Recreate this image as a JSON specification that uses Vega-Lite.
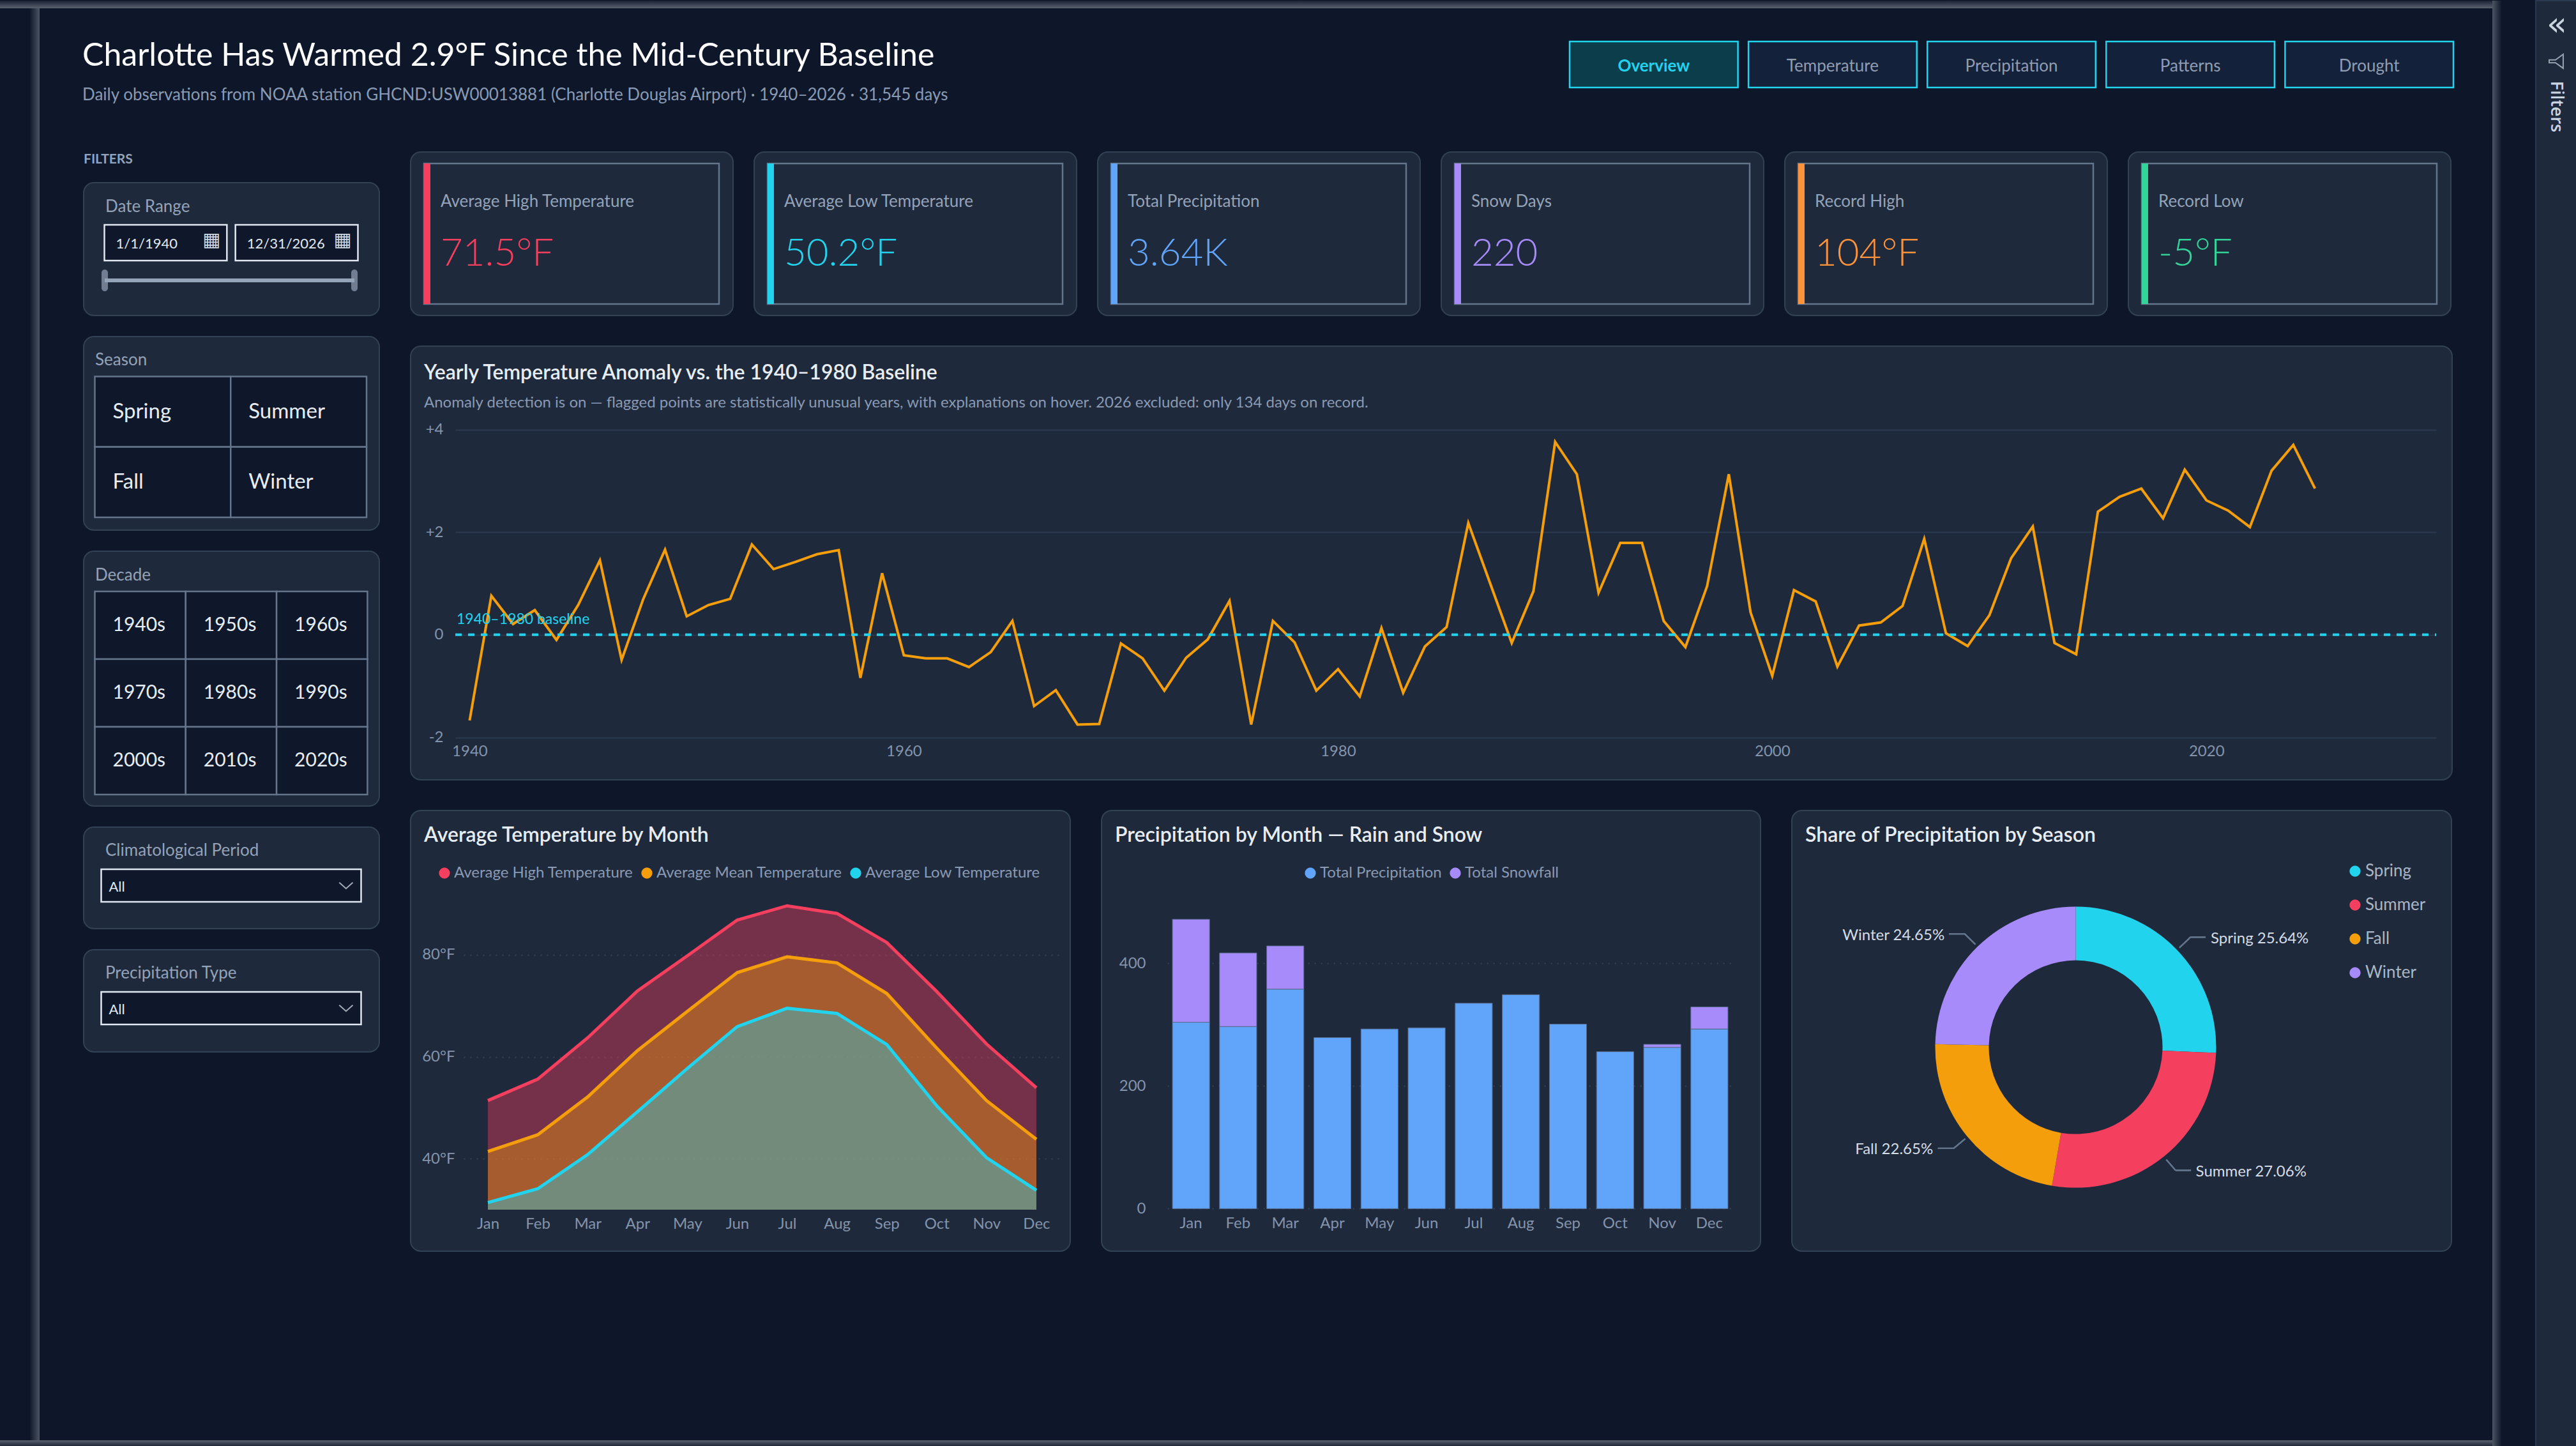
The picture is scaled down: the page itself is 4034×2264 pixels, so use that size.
{
  "$schema": "https://vega.github.io/schema/vega-lite/v6.json",
  "padding": 0,
  "background": "#0d1729",
  "spacing": 0,
  "resolve": {"scale": {"color": "independent"}},
  "config": {
    "font": "Lato",
    "view": {"fill": "#1e293b", "stroke": "#334155", "strokeWidth": 2, "cornerRadius": 16},
    "axis": {"domain": false, "ticks": false, "title": null, "labelFont": "Lato", "labelFontSize": 24, "labelColor": "#8494ab", "labelFlush": false, "gridColor": "#34445c", "gridDash": [2, 8], "gridWidth": 2},
    "title": {"anchor": "start", "frame": "group", "font": "Lato", "color": "#e8edf4", "fontSize": 32, "fontWeight": 600, "dx": 21, "offset": -56},
    "legend": {"labelFont": "Lato", "labelFontSize": 24, "labelLimit": 500, "labelColor": "#8a9ab3", "symbolType": "circle", "symbolSize": 300, "symbolOpacity": 1, "symbolStrokeWidth": 0, "title": null, "labelOffset": 3, "columnPadding": 9, "orient": "none", "padding": 0}
  },
  "hconcat": [
    {
      "spacing": 0,
      "resolve": {"scale": {"color": "independent"}},
      "vconcat": [
        {
          "width": 3903, "height": 12, "view": {"fill": "transparent", "stroke": null, "cornerRadius": 0},
          "data": {"values": [{"part": "top edge"}]},
          "mark": {"type": "rect", "color": {"gradient": "linear", "x1": 0, "y1": 0, "x2": 0, "y2": 1, "stops": [{"offset": 0, "color": "#1a2333"}, {"offset": 1, "color": "#5a606e"}]}}
        },
        {
          "spacing": 67,
          "resolve": {"scale": {"color": "independent"}},
          "hconcat": [
            {
              "width": 62, "height": 2242, "view": {"fill": "transparent", "stroke": null, "cornerRadius": 0},
              "data": {"values": [{"part": "left edge"}]},
              "mark": {"type": "rect", "color": {"gradient": "linear", "x1": 0, "y1": 0, "x2": 1, "y2": 0, "stops": [{"offset": 0, "color": "#0d1729"}, {"offset": 0.75, "color": "#0d1729"}, {"offset": 1, "color": "#4b5563"}]}}
            },
            {
              "spacing": 0,
              "resolve": {"scale": {"color": "independent"}},
              "vconcat": [
                {
                  "spacing": 0,
                  "bounds": "flush",
                  "hconcat": [
                    {
                      "width": 2327, "height": 224, "view": {"fill": "transparent", "stroke": null, "cornerRadius": 0},
                      "title": {"text": "Charlotte Has Warmed 2.9°F Since the Mid-Century Baseline", "subtitle": "Daily observations from NOAA station GHCND:USW00013881 (Charlotte Douglas Airport) · 1940–2026 · 31,545 days", "fontSize": 50, "fontWeight": 400, "color": "#ffffff", "subtitleFont": "Lato", "subtitleFontSize": 26, "subtitleColor": "#8a9ab3", "subtitlePadding": 23, "dx": -2, "offset": -149},
                      "data": {"values": [{"part": "title"}]},
                      "mark": {"type": "text", "text": ""}
                    },
                    {
                      "width": 1384, "height": 224, "view": {"fill": "transparent", "stroke": null, "cornerRadius": 0},
                      "data": {"values": [{"page": "Overview"}, {"page": "Temperature"}, {"page": "Precipitation"}, {"page": "Patterns"}, {"page": "Drought"}]},
                      "encoding": {
                        "x": {"field": "page", "type": "nominal", "sort": null, "axis": null, "scale": {"type": "band", "range": [0, 1384], "paddingInner": 0.059, "paddingOuter": 0}},
                        "y": {"datum": "nav", "type": "nominal", "axis": null, "scale": {"type": "band", "domain": ["nav"], "range": [52, 124], "padding": 0}}
                      },
                      "layer": [
                        {
                          "mark": {"type": "rect", "stroke": "#22d3ee", "strokeWidth": 2.5},
                          "encoding": {"fill": {"condition": {"test": "datum.page == 'Overview'", "value": "#0c3d4a"}, "value": "#14213a"}}
                        },
                        {
                          "transform": [{"filter": "datum.page != 'Overview'"}],
                          "mark": {"type": "text", "fontSize": 26, "color": "#8f9db3", "dy": 3},
                          "encoding": {"text": {"field": "page"}}
                        },
                        {
                          "transform": [{"filter": "datum.page == 'Overview'"}],
                          "mark": {"type": "text", "fontSize": 26, "fontWeight": 700, "color": "#22d3ee", "dy": 3},
                          "encoding": {"text": {"field": "page"}}
                        }
                      ]
                    }
                  ]
                },
                {
                  "spacing": 47,
                  "resolve": {"scale": {"color": "independent"}},
                  "hconcat": [
                    {
                      "spacing": 33,
                      "bounds": "flush",
                      "vconcat": [
                        {
                          "width": 463, "height": 15, "view": {"fill": "transparent", "stroke": null, "cornerRadius": 0},
                          "title": {"text": "FILTERS", "fontSize": 21, "fontWeight": 700, "color": "#94a3b8", "dx": 0, "offset": -22},
                          "data": {"values": [{"part": "label"}]},
                          "mark": {"type": "text", "text": ""}
                        },
                        {
                          "width": 463, "height": 208,
                          "title": {"text": "Date Range", "fontSize": 26, "fontWeight": 400, "color": "#94a3b8", "dx": 34, "offset": -51},
                          "resolve": {"scale": {"x": "independent", "y": "independent"}},
                          "layer": [
                            {
                              "data": {"values": [{"date": "1/1/1940"}, {"date": "12/31/2026"}]},
                              "mark": {"type": "rect", "fill": "#0f172a", "stroke": "#e2e8f0", "strokeWidth": 2.5},
                              "encoding": {
                                "x": {"field": "date", "type": "nominal", "sort": null, "axis": null, "scale": {"type": "band", "range": [32.5, 429.5], "paddingInner": 0.065, "paddingOuter": 0}},
                                "y": {"datum": "box", "type": "nominal", "axis": null, "scale": {"type": "band", "domain": ["box"], "range": [66, 122], "padding": 0}}
                              }
                            },
                            {
                              "data": {"values": [{"date": "1/1/1940"}, {"date": "12/31/2026"}]},
                              "mark": {"type": "text", "align": "left", "dx": 18, "dy": 2, "color": "#e2e8f0", "fontSize": 22},
                              "encoding": {
                                "x": {"field": "date", "type": "nominal", "sort": null, "bandPosition": 0, "axis": null, "scale": {"type": "band", "range": [32.5, 429.5], "paddingInner": 0.065, "paddingOuter": 0}},
                                "y": {"datum": "box", "type": "nominal", "axis": null, "scale": {"type": "band", "domain": ["box"], "range": [66, 122], "padding": 0}},
                                "text": {"field": "date"}
                              }
                            },
                            {
                              "data": {"values": [{"date": "1/1/1940"}, {"date": "12/31/2026"}]},
                              "mark": {"type": "text", "text": "▦", "font": "DejaVu Sans", "align": "right", "dx": 86, "dy": -4, "color": "#cbd5e1", "fontSize": 30},
                              "encoding": {
                                "x": {"field": "date", "type": "nominal", "sort": null, "axis": null, "scale": {"type": "band", "range": [32.5, 429.5], "paddingInner": 0.065, "paddingOuter": 0}},
                                "y": {"datum": "box", "type": "nominal", "axis": null, "scale": {"type": "band", "domain": ["box"], "range": [66, 122], "padding": 0}}
                              }
                            },
                            {
                              "data": {"values": [{"start": 1940, "end": 2026}]},
                              "mark": {"type": "rule", "color": "#94a3b8", "strokeWidth": 6},
                              "encoding": {
                                "x": {"field": "start", "type": "quantitative", "axis": null, "scale": {"domain": [1940, 2026], "range": [33, 424], "nice": false, "zero": false}},
                                "x2": {"field": "end"},
                                "y": {"datum": "slider", "type": "nominal", "axis": null, "scale": {"type": "band", "domain": ["slider"], "range": [136, 170], "padding": 0}}
                              }
                            },
                            {
                              "data": {"values": [{"year": 1940}, {"year": 2026}]},
                              "mark": {"type": "tick", "orient": "vertical", "color": "#94a3b8", "size": 34, "thickness": 10, "cornerRadius": 5},
                              "encoding": {
                                "x": {"field": "year", "type": "quantitative", "axis": null, "scale": {"domain": [1940, 2026], "range": [33, 424], "nice": false, "zero": false}},
                                "y": {"datum": "slider", "type": "nominal", "axis": null, "scale": {"type": "band", "domain": ["slider"], "range": [136, 170], "padding": 0}}
                              }
                            }
                          ]
                        },
                        {
                          "width": 463, "height": 303,
                          "title": {"text": "Season", "fontSize": 26, "fontWeight": 400, "color": "#94a3b8", "dx": 18, "offset": -50},
                          "data": {"values": [
                            {"season": "Spring", "col": "a", "row": "1"},
                            {"season": "Summer", "col": "b", "row": "1"},
                            {"season": "Fall", "col": "a", "row": "2"},
                            {"season": "Winter", "col": "b", "row": "2"}
                          ]},
                          "layer": [
                            {
                              "mark": {"type": "rect", "fill": "#0f172a", "stroke": "#64748b", "strokeWidth": 2.5},
                              "encoding": {
                                "x": {"field": "col", "type": "ordinal", "axis": null, "scale": {"range": [17.5, 443], "padding": 0}},
                                "y": {"field": "row", "type": "ordinal", "axis": null, "scale": {"range": [62.5, 283], "padding": 0}}
                              }
                            },
                            {
                              "mark": {"type": "text", "align": "left", "dx": 28, "color": "#e8edf4", "fontSize": 33},
                              "encoding": {
                                "x": {"field": "col", "type": "ordinal", "bandPosition": 0, "axis": null, "scale": {"range": [17.5, 443], "padding": 0}},
                                "y": {"field": "row", "type": "ordinal", "axis": null, "scale": {"range": [62.5, 283], "padding": 0}},
                                "text": {"field": "season"}
                              }
                            }
                          ]
                        },
                        {
                          "width": 463, "height": 399,
                          "title": {"text": "Decade", "fontSize": 26, "fontWeight": 400, "color": "#94a3b8", "dx": 18, "offset": -51},
                          "data": {"values": [
                            {"decade": "1940s", "col": "a", "row": "1"},
                            {"decade": "1950s", "col": "b", "row": "1"},
                            {"decade": "1960s", "col": "c", "row": "1"},
                            {"decade": "1970s", "col": "a", "row": "2"},
                            {"decade": "1980s", "col": "b", "row": "2"},
                            {"decade": "1990s", "col": "c", "row": "2"},
                            {"decade": "2000s", "col": "a", "row": "3"},
                            {"decade": "2010s", "col": "b", "row": "3"},
                            {"decade": "2020s", "col": "c", "row": "3"}
                          ]},
                          "layer": [
                            {
                              "mark": {"type": "rect", "fill": "#0f172a", "stroke": "#64748b", "strokeWidth": 2.5},
                              "encoding": {
                                "x": {"field": "col", "type": "ordinal", "axis": null, "scale": {"range": [17.5, 444.4], "padding": 0}},
                                "y": {"field": "row", "type": "ordinal", "axis": null, "scale": {"range": [63, 381], "padding": 0}}
                              }
                            },
                            {
                              "mark": {"type": "text", "align": "left", "dx": 28, "color": "#e8edf4", "fontSize": 30},
                              "encoding": {
                                "x": {"field": "col", "type": "ordinal", "bandPosition": 0, "axis": null, "scale": {"range": [17.5, 444.4], "padding": 0}},
                                "y": {"field": "row", "type": "ordinal", "axis": null, "scale": {"range": [63, 381], "padding": 0}},
                                "text": {"field": "decade"}
                              }
                            }
                          ]
                        },
                        {
                          "width": 463, "height": 159,
                          "title": {"text": "Climatological Period", "fontSize": 26, "fontWeight": 400, "color": "#94a3b8", "dx": 34, "offset": -50},
                          "data": {"values": [{"choice": "All"}]},
                          "encoding": {
                            "y": {"field": "choice", "type": "nominal", "axis": null, "scale": {"type": "band", "range": [66, 117], "padding": 0}},
                            "x": {"field": "choice", "type": "nominal", "axis": null, "scale": {"type": "band", "range": [27.5, 434.5], "padding": 0}}
                          },
                          "layer": [
                            {"mark": {"type": "rect", "fill": "#0f172a", "stroke": "#e2e8f0", "strokeWidth": 2.5}},
                            {
                              "mark": {"type": "text", "align": "left", "dx": 12, "dy": 2, "color": "#e2e8f0", "fontSize": 22},
                              "encoding": {"x": {"field": "choice", "type": "nominal", "bandPosition": 0, "axis": null}, "text": {"field": "choice"}}
                            },
                            {
                              "mark": {"type": "point", "shape": "M-1,-0.45L0,0.45L1,-0.45", "size": 450, "filled": false, "stroke": "#e2e8f0", "strokeWidth": 2},
                              "encoding": {"x": {"field": "choice", "type": "nominal", "bandPosition": 0.942, "axis": null}}
                            }
                          ]
                        },
                        {
                          "width": 463, "height": 160,
                          "title": {"text": "Precipitation Type", "fontSize": 26, "fontWeight": 400, "color": "#94a3b8", "dx": 34, "offset": -50},
                          "data": {"values": [{"choice": "All"}]},
                          "encoding": {
                            "y": {"field": "choice", "type": "nominal", "axis": null, "scale": {"type": "band", "range": [66, 117], "padding": 0}},
                            "x": {"field": "choice", "type": "nominal", "axis": null, "scale": {"type": "band", "range": [27.5, 434.5], "padding": 0}}
                          },
                          "layer": [
                            {"mark": {"type": "rect", "fill": "#0f172a", "stroke": "#e2e8f0", "strokeWidth": 2.5}},
                            {
                              "mark": {"type": "text", "align": "left", "dx": 12, "dy": 2, "color": "#e2e8f0", "fontSize": 22},
                              "encoding": {"x": {"field": "choice", "type": "nominal", "bandPosition": 0, "axis": null}, "text": {"field": "choice"}}
                            },
                            {
                              "mark": {"type": "point", "shape": "M-1,-0.45L0,0.45L1,-0.45", "size": 450, "filled": false, "stroke": "#e2e8f0", "strokeWidth": 2},
                              "encoding": {"x": {"field": "choice", "type": "nominal", "bandPosition": 0.942, "axis": null}}
                            }
                          ]
                        }
                      ]
                    },
                    {
                      "spacing": 46,
                      "resolve": {"scale": {"color": "independent"}},
                      "vconcat": [
                        {
                          "data": {"values": [
                            {"label": "Average High Temperature", "value": "71.5°F"},
                            {"label": "Average Low Temperature", "value": "50.2°F"},
                            {"label": "Total Precipitation", "value": "3.64K"},
                            {"label": "Snow Days", "value": "220"},
                            {"label": "Record High", "value": "104°F"},
                            {"label": "Record Low", "value": "-5°F"}
                          ]},
                          "facet": {"column": {"field": "label", "type": "nominal", "sort": ["Average High Temperature", "Average Low Temperature", "Total Precipitation", "Snow Days", "Record High", "Record Low"], "header": null}},
                          "spacing": 33,
                          "bounds": "flush",
                          "spec": {
                            "width": 505, "height": 256,
                            "encoding": {
                              "x": {"datum": 0, "type": "quantitative", "axis": null, "scale": {"domain": [0, 1], "range": [21, 483], "nice": false}},
                              "y": {"datum": 0, "type": "quantitative", "axis": null, "scale": {"domain": [0, 1], "range": [238, 18], "nice": false}}
                            },
                            "layer": [
                              {
                                "mark": {"type": "rect", "fill": "#1e293b", "stroke": "#64748b", "strokeWidth": 2.5},
                                "encoding": {"x2": {"datum": 1}, "y2": {"datum": 1}}
                              },
                              {
                                "mark": {"type": "rect"},
                                "encoding": {
                                  "x2": {"datum": 0.0216}, "y2": {"datum": 1},
                                  "color": {"field": "label", "type": "nominal", "sort": null, "legend": null, "scale": {"domain": ["Average High Temperature", "Average Low Temperature", "Total Precipitation", "Snow Days", "Record High", "Record Low"], "range": ["#f43f5e", "#22d3ee", "#60a5fa", "#a78bfa", "#fb923c", "#34d399"]}}
                                }
                              },
                              {
                                "mark": {"type": "text", "align": "left", "dx": 26, "dy": -50, "fontSize": 26, "color": "#94a3b8"},
                                "encoding": {"y": {"datum": 0.5, "type": "quantitative"}, "text": {"field": "label"}}
                              },
                              {
                                "mark": {"type": "text", "align": "left", "dx": 26, "dy": 32, "fontSize": 60, "fontWeight": 300},
                                "encoding": {
                                  "y": {"datum": 0.5, "type": "quantitative"},
                                  "text": {"field": "value"},
                                  "color": {"field": "label", "type": "nominal", "sort": null, "legend": null}
                                }
                              }
                            ]
                          }
                        },
                        {
                          "width": 3197, "height": 679,
                          "title": {"text": "Yearly Temperature Anomaly vs. the 1940–1980 Baseline", "subtitle": "Anomaly detection is on — flagged points are statistically unusual years, with explanations on hover. 2026 excluded: only 134 days on record.", "subtitleFont": "Lato", "subtitleFontSize": 24, "subtitleColor": "#8a9ab3", "subtitlePadding": 18, "offset": -102},
                          "layer": [
                            {
                              "data": {"values": [
                                {"year": 1940, "anomaly": -1.67}, {"year": 1941, "anomaly": 0.76}, {"year": 1942, "anomaly": 0.21}, {"year": 1943, "anomaly": 0.48}, {"year": 1944, "anomaly": -0.1},
                                {"year": 1945, "anomaly": 0.58}, {"year": 1946, "anomaly": 1.45}, {"year": 1947, "anomaly": -0.49}, {"year": 1948, "anomaly": 0.7}, {"year": 1949, "anomaly": 1.66},
                                {"year": 1950, "anomaly": 0.36}, {"year": 1951, "anomaly": 0.58}, {"year": 1952, "anomaly": 0.7}, {"year": 1953, "anomaly": 1.76}, {"year": 1954, "anomaly": 1.28},
                                {"year": 1955, "anomaly": 1.42}, {"year": 1956, "anomaly": 1.57}, {"year": 1957, "anomaly": 1.65}, {"year": 1958, "anomaly": -0.84}, {"year": 1959, "anomaly": 1.2},
                                {"year": 1960, "anomaly": -0.4}, {"year": 1961, "anomaly": -0.46}, {"year": 1962, "anomaly": -0.46}, {"year": 1963, "anomaly": -0.63}, {"year": 1964, "anomaly": -0.34},
                                {"year": 1965, "anomaly": 0.27}, {"year": 1966, "anomaly": -1.39}, {"year": 1967, "anomaly": -1.08}, {"year": 1968, "anomaly": -1.75}, {"year": 1969, "anomaly": -1.74},
                                {"year": 1970, "anomaly": -0.17}, {"year": 1971, "anomaly": -0.46}, {"year": 1972, "anomaly": -1.09}, {"year": 1973, "anomaly": -0.45}, {"year": 1974, "anomaly": -0.09},
                                {"year": 1975, "anomaly": 0.66}, {"year": 1976, "anomaly": -1.75}, {"year": 1977, "anomaly": 0.27}, {"year": 1978, "anomaly": -0.15}, {"year": 1979, "anomaly": -1.09},
                                {"year": 1980, "anomaly": -0.67}, {"year": 1981, "anomaly": -1.2}, {"year": 1982, "anomaly": 0.13}, {"year": 1983, "anomaly": -1.13}, {"year": 1984, "anomaly": -0.23},
                                {"year": 1985, "anomaly": 0.15}, {"year": 1986, "anomaly": 2.18}, {"year": 1987, "anomaly": 1.01}, {"year": 1988, "anomaly": -0.16}, {"year": 1989, "anomaly": 0.85},
                                {"year": 1990, "anomaly": 3.76}, {"year": 1991, "anomaly": 3.13}, {"year": 1992, "anomaly": 0.82}, {"year": 1993, "anomaly": 1.79}, {"year": 1994, "anomaly": 1.79},
                                {"year": 1995, "anomaly": 0.27}, {"year": 1996, "anomaly": -0.24}, {"year": 1997, "anomaly": 0.95}, {"year": 1998, "anomaly": 3.13}, {"year": 1999, "anomaly": 0.44},
                                {"year": 2000, "anomaly": -0.8}, {"year": 2001, "anomaly": 0.87}, {"year": 2002, "anomaly": 0.65}, {"year": 2003, "anomaly": -0.62}, {"year": 2004, "anomaly": 0.18},
                                {"year": 2005, "anomaly": 0.24}, {"year": 2006, "anomaly": 0.56}, {"year": 2007, "anomaly": 1.87}, {"year": 2008, "anomaly": 0.03}, {"year": 2009, "anomaly": -0.22},
                                {"year": 2010, "anomaly": 0.38}, {"year": 2011, "anomaly": 1.49}, {"year": 2012, "anomaly": 2.11}, {"year": 2013, "anomaly": -0.16}, {"year": 2014, "anomaly": -0.38},
                                {"year": 2015, "anomaly": 2.4}, {"year": 2016, "anomaly": 2.69}, {"year": 2017, "anomaly": 2.85}, {"year": 2018, "anomaly": 2.27}, {"year": 2019, "anomaly": 3.22},
                                {"year": 2020, "anomaly": 2.62}, {"year": 2021, "anomaly": 2.42}, {"year": 2022, "anomaly": 2.1}, {"year": 2023, "anomaly": 3.2}, {"year": 2024, "anomaly": 3.7},
                                {"year": 2025, "anomaly": 2.85}
                              ]},
                              "mark": {"type": "line", "color": "#f59e0b", "strokeWidth": 4},
                              "encoding": {
                                "x": {"field": "year", "type": "quantitative", "axis": {"values": [1940, 1960, 1980, 2000, 2020], "format": "d", "grid": false, "offset": -66.5, "labelPadding": 10, "labelOverlap": false}, "scale": {"domain": [1939.34, 2030.58], "range": [70, 3172], "nice": false, "zero": false}},
                                "y": {"field": "anomaly", "type": "quantitative", "axis": {"values": [-2, 0, 2, 4], "labelExpr": "datum.value > 0 ? '+' + datum.value : '' + datum.value", "gridDash": [], "gridColor": "#2a3a50", "offset": -60, "labelPadding": 9}, "scale": {"domain": [-2, 4], "range": [612.5, 130.6], "nice": false, "zero": false}}
                              }
                            },
                            {
                              "data": {"values": [{"label": "1940–1980 baseline", "baseline": 0}]},
                              "mark": {"type": "rule", "color": "#22d3ee", "strokeWidth": 4, "strokeDash": [10, 10]},
                              "encoding": {
                                "x": {"datum": 1939.34, "type": "quantitative"},
                                "x2": {"datum": 2030.58},
                                "y": {"field": "baseline", "type": "quantitative"}
                              }
                            },
                            {
                              "data": {"values": [{"label": "1940–1980 baseline", "baseline": 0}]},
                              "mark": {"type": "text", "color": "#22d3ee", "align": "left", "dx": 2, "dy": -24, "fontSize": 23},
                              "encoding": {
                                "x": {"datum": 1939.34, "type": "quantitative"},
                                "y": {"field": "baseline", "type": "quantitative"},
                                "text": {"field": "label"}
                              }
                            }
                          ]
                        },
                        {
                          "spacing": 47,
                          "resolve": {"scale": {"color": "independent"}},
                          "hconcat": [
                            {
                              "width": 1033, "height": 690,
                              "title": {"text": "Average Temperature by Month"},
                              "data": {"values": [
                                {"month": "Jan", "series": "Average High Temperature", "temp": 51.4}, {"month": "Feb", "series": "Average High Temperature", "temp": 55.6}, {"month": "Mar", "series": "Average High Temperature", "temp": 63.7}, {"month": "Apr", "series": "Average High Temperature", "temp": 72.9}, {"month": "May", "series": "Average High Temperature", "temp": 79.8}, {"month": "Jun", "series": "Average High Temperature", "temp": 86.8}, {"month": "Jul", "series": "Average High Temperature", "temp": 89.6}, {"month": "Aug", "series": "Average High Temperature", "temp": 88.1}, {"month": "Sep", "series": "Average High Temperature", "temp": 82.4}, {"month": "Oct", "series": "Average High Temperature", "temp": 72.8}, {"month": "Nov", "series": "Average High Temperature", "temp": 62.5}, {"month": "Dec", "series": "Average High Temperature", "temp": 53.9},
                                {"month": "Jan", "series": "Average Mean Temperature", "temp": 41.4}, {"month": "Feb", "series": "Average Mean Temperature", "temp": 44.7}, {"month": "Mar", "series": "Average Mean Temperature", "temp": 52.1}, {"month": "Apr", "series": "Average Mean Temperature", "temp": 61.2}, {"month": "May", "series": "Average Mean Temperature", "temp": 68.9}, {"month": "Jun", "series": "Average Mean Temperature", "temp": 76.5}, {"month": "Jul", "series": "Average Mean Temperature", "temp": 79.6}, {"month": "Aug", "series": "Average Mean Temperature", "temp": 78.4}, {"month": "Sep", "series": "Average Mean Temperature", "temp": 72.4}, {"month": "Oct", "series": "Average Mean Temperature", "temp": 61.7}, {"month": "Nov", "series": "Average Mean Temperature", "temp": 51.4}, {"month": "Dec", "series": "Average Mean Temperature", "temp": 43.8},
                                {"month": "Jan", "series": "Average Low Temperature", "temp": 31.4}, {"month": "Feb", "series": "Average Low Temperature", "temp": 34.1}, {"month": "Mar", "series": "Average Low Temperature", "temp": 40.8}, {"month": "Apr", "series": "Average Low Temperature", "temp": 49.2}, {"month": "May", "series": "Average Low Temperature", "temp": 57.7}, {"month": "Jun", "series": "Average Low Temperature", "temp": 65.9}, {"month": "Jul", "series": "Average Low Temperature", "temp": 69.5}, {"month": "Aug", "series": "Average Low Temperature", "temp": 68.5}, {"month": "Sep", "series": "Average Low Temperature", "temp": 62.4}, {"month": "Oct", "series": "Average Low Temperature", "temp": 50.4}, {"month": "Nov", "series": "Average Low Temperature", "temp": 40.2}, {"month": "Dec", "series": "Average Low Temperature", "temp": 33.8}
                              ]},
                              "encoding": {
                                "x": {"field": "month", "type": "ordinal", "sort": null, "axis": {"labelAngle": 0, "offset": -65, "labelPadding": 10, "grid": false}, "scale": {"type": "point", "range": [83, 1018], "padding": 0.487}},
                                "y": {"field": "temp", "type": "quantitative", "axis": {"values": [40, 60, 80], "labelExpr": "datum.value + '°F'", "offset": -75, "labelPadding": 6, "gridDash": [2, 8]}, "scale": {"domain": [30, 90], "range": [625, 146], "nice": false, "zero": false}},
                                "color": {"field": "series", "type": "nominal", "sort": null, "scale": {"domain": ["Average High Temperature", "Average Mean Temperature", "Average Low Temperature"], "range": ["#f43f5e", "#f59e0b", "#22d3ee"]}, "legend": {"direction": "horizontal", "legendX": 41, "legendY": 86}}
                              },
                              "layer": [
                                {"mark": {"type": "area", "fillOpacity": 0.4}, "encoding": {"y2": {"datum": 30}}},
                                {"mark": {"type": "line", "strokeWidth": 5}}
                              ]
                            },
                            {
                              "width": 1032, "height": 690,
                              "title": {"text": "Precipitation by Month — Rain and Snow"},
                              "data": {"values": [
                                {"month": "Jan", "series": "Total Precipitation", "inches": 304}, {"month": "Feb", "series": "Total Precipitation", "inches": 297}, {"month": "Mar", "series": "Total Precipitation", "inches": 358}, {"month": "Apr", "series": "Total Precipitation", "inches": 279}, {"month": "May", "series": "Total Precipitation", "inches": 293}, {"month": "Jun", "series": "Total Precipitation", "inches": 295}, {"month": "Jul", "series": "Total Precipitation", "inches": 335}, {"month": "Aug", "series": "Total Precipitation", "inches": 349}, {"month": "Sep", "series": "Total Precipitation", "inches": 301}, {"month": "Oct", "series": "Total Precipitation", "inches": 256}, {"month": "Nov", "series": "Total Precipitation", "inches": 263}, {"month": "Dec", "series": "Total Precipitation", "inches": 293},
                                {"month": "Jan", "series": "Total Snowfall", "inches": 168}, {"month": "Feb", "series": "Total Snowfall", "inches": 120}, {"month": "Mar", "series": "Total Snowfall", "inches": 70.5}, {"month": "Nov", "series": "Total Snowfall", "inches": 5}, {"month": "Dec", "series": "Total Snowfall", "inches": 36}
                              ]},
                              "mark": {"type": "bar", "stroke": "#56698c", "strokeWidth": 1},
                              "encoding": {
                                "x": {"field": "month", "type": "ordinal", "sort": null, "axis": {"labelAngle": 0, "offset": -66.6, "labelPadding": 11, "grid": false}, "scale": {"domain": ["Jan", "Feb", "Mar", "Apr", "May", "Jun", "Jul", "Aug", "Sep", "Oct", "Nov", "Dec"], "range": [103.2, 988.8], "paddingInner": 0.212, "paddingOuter": 0.106}},
                                "y": {"field": "inches", "type": "quantitative", "stack": "zero", "axis": {"values": [0, 200, 400], "offset": -75, "labelPadding": 6, "gridDash": [2, 8]}, "scale": {"domain": [0, 500], "range": [623.4, 143.4], "nice": false}},
                                "order": {"field": "series", "sort": "ascending"},
                                "color": {"field": "series", "type": "nominal", "sort": null, "scale": {"domain": ["Total Precipitation", "Total Snowfall"], "range": ["#60a5fa", "#a78bfa"]}, "legend": {"direction": "horizontal", "legendX": 315, "legendY": 86}}
                              }
                            },
                            {
                              "width": 1033, "height": 690,
                              "title": {"text": "Share of Precipitation by Season"},
                              "data": {"values": [
                                {"season": "Spring", "share": 25.64, "rank": 1, "label": "Spring 25.64%"},
                                {"season": "Summer", "share": 27.06, "rank": 2, "label": "Summer 27.06%"},
                                {"season": "Fall", "share": 22.65, "rank": 3, "label": "Fall 22.65%"},
                                {"season": "Winter", "share": 24.65, "rank": 4, "label": "Winter 24.65%"}
                              ]},
                              "layer": [
                                {
                                  "mark": {"type": "arc", "innerRadius": 136, "outerRadius": 220},
                                  "encoding": {
                                    "x": {"datum": 0.4303, "type": "quantitative", "axis": null, "scale": {"domain": [0, 1], "nice": false, "zero": false}},
                                    "y": {"datum": 0.4629, "type": "quantitative", "axis": null, "scale": {"domain": [0, 1], "nice": false, "zero": false}},
                                    "theta": {"field": "share", "type": "quantitative", "stack": true},
                                    "order": {"field": "rank"},
                                    "color": {"field": "season", "type": "nominal", "sort": null, "scale": {"domain": ["Spring", "Summer", "Fall", "Winter"], "range": ["#22d3ee", "#f43f5e", "#f59e0b", "#a78bfa"]}, "legend": {"direction": "vertical", "legendX": 869, "legendY": 82, "rowPadding": 27, "labelColor": "#aab6c6", "labelFontSize": 26}}
                                  }
                                },
                                {"mark": {"type": "rule", "color": "#64748b", "strokeWidth": 2}, "encoding": {"x": {"datum": 0.5877}, "x2": {"datum": 0.6044}, "y": {"datum": 0.6889}, "y2": {"datum": 0.7126}}},
                                {"mark": {"type": "rule", "color": "#64748b", "strokeWidth": 2}, "encoding": {"x": {"datum": 0.6044}, "x2": {"datum": 0.6271}, "y": {"datum": 0.7126}, "y2": {"datum": 0.7126}}},
                                {"mark": {"type": "rule", "color": "#64748b", "strokeWidth": 2}, "encoding": {"x": {"datum": 0.5677}, "x2": {"datum": 0.5817}, "y": {"datum": 0.2078}, "y2": {"datum": 0.1835}}},
                                {"mark": {"type": "rule", "color": "#64748b", "strokeWidth": 2}, "encoding": {"x": {"datum": 0.5817}, "x2": {"datum": 0.6051}, "y": {"datum": 0.1835}, "y2": {"datum": 0.1835}}},
                                {"mark": {"type": "rule", "color": "#64748b", "strokeWidth": 2}, "encoding": {"x": {"datum": 0.2628}, "x2": {"datum": 0.2455}, "y": {"datum": 0.2551}, "y2": {"datum": 0.2335}}},
                                {"mark": {"type": "rule", "color": "#64748b", "strokeWidth": 2}, "encoding": {"x": {"datum": 0.2455}, "x2": {"datum": 0.2215}, "y": {"datum": 0.2335}, "y2": {"datum": 0.2335}}},
                                {"mark": {"type": "rule", "color": "#64748b", "strokeWidth": 2}, "encoding": {"x": {"datum": 0.2782}, "x2": {"datum": 0.2622}, "y": {"datum": 0.6964}, "y2": {"datum": 0.72}}},
                                {"mark": {"type": "rule", "color": "#64748b", "strokeWidth": 2}, "encoding": {"x": {"datum": 0.2622}, "x2": {"datum": 0.2382}, "y": {"datum": 0.72}, "y2": {"datum": 0.72}}},
                                {
                                  "transform": [{"filter": "datum.season == 'Spring'"}],
                                  "mark": {"type": "text", "align": "left", "color": "#d5dce6", "fontSize": 24},
                                  "encoding": {"x": {"datum": 0.6351}, "y": {"datum": 0.7092}, "text": {"field": "label"}}
                                },
                                {
                                  "transform": [{"filter": "datum.season == 'Summer'"}],
                                  "mark": {"type": "text", "align": "left", "color": "#d5dce6", "fontSize": 24},
                                  "encoding": {"x": {"datum": 0.6124}, "y": {"datum": 0.1795}, "text": {"field": "label"}}
                                },
                                {
                                  "transform": [{"filter": "datum.season == 'Fall'"}],
                                  "mark": {"type": "text", "align": "right", "color": "#d5dce6", "fontSize": 24},
                                  "encoding": {"x": {"datum": 0.2141}, "y": {"datum": 0.2308}, "text": {"field": "label"}}
                                },
                                {
                                  "transform": [{"filter": "datum.season == 'Winter'"}],
                                  "mark": {"type": "text", "align": "right", "color": "#d5dce6", "fontSize": 24},
                                  "encoding": {"x": {"datum": 0.2315}, "y": {"datum": 0.7159}, "text": {"field": "label"}}
                                }
                              ]
                            }
                          ]
                        }
                      ]
                    }
                  ]
                }
              ]
            }
          ]
        },
        {
          "width": 3903, "height": 10, "view": {"fill": "transparent", "stroke": null, "cornerRadius": 0},
          "data": {"values": [{"part": "bottom edge"}]},
          "mark": {"type": "rect", "color": {"gradient": "linear", "x1": 0, "y1": 0, "x2": 0, "y2": 1, "stops": [{"offset": 0, "color": "#5a606e"}, {"offset": 1, "color": "#1a2333"}]}}
        }
      ]
    },
    {
      "width": 67, "height": 2264, "view": {"fill": "transparent", "stroke": null, "cornerRadius": 0},
      "data": {"values": [{"part": "right edge"}]},
      "mark": {"type": "rect", "color": {"gradient": "linear", "x1": 0, "y1": 0, "x2": 1, "y2": 0, "stops": [{"offset": 0, "color": "#4b5563"}, {"offset": 0.22, "color": "#0d1729"}, {"offset": 1, "color": "#0d1729"}]}}
    },
    {
      "width": 64, "height": 2264, "view": {"fill": "#1e293b", "stroke": "#2b3950", "strokeWidth": 2, "cornerRadius": 0},
      "data": {"values": [{"part": "strip"}]},
      "layer": [
        {
          "mark": {"type": "text", "text": "«", "font": "DejaVu Sans", "fontSize": 52, "color": "#cbd5e1", "dx": 1},
          "encoding": {"y": {"datum": 0, "type": "quantitative", "axis": null, "scale": {"domain": [0, 1], "range": [38, 166], "nice": false, "zero": false}}}
        },
        {
          "mark": {"type": "point", "shape": "M1,-1L1,1L-0.1,0.2L-1,0.2L-1,-0.2L-0.1,-0.2Z", "size": 480, "filled": false, "stroke": "#cbd5e1", "strokeWidth": 2},
          "encoding": {"y": {"datum": 0.445, "type": "quantitative"}}
        },
        {
          "mark": {"type": "text", "text": "Filters", "angle": 90, "font": "Open Sans", "fontSize": 27, "fontWeight": 600, "color": "#cbd5e1"},
          "encoding": {"y": {"datum": 1, "type": "quantitative"}}
        }
      ]
    }
  ]
}
